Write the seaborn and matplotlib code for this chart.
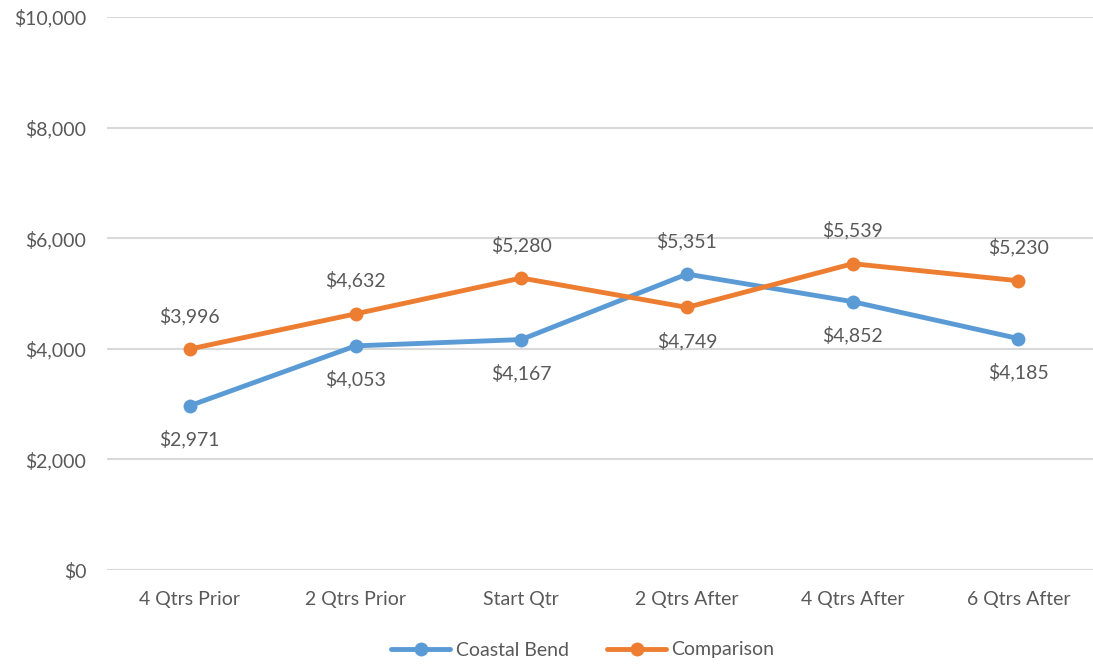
import matplotlib
matplotlib.use("Agg")
import matplotlib.pyplot as plt
import seaborn as sns
import pandas as pd
from matplotlib.ticker import FuncFormatter

# data
quarters = ["4 Qtrs Prior", "2 Qtrs Prior", "Start Qtr", "2 Qtrs After", "4 Qtrs After", "6 Qtrs After"]
coastal_bend = [2971, 4053, 4167, 5351, 4852, 4185]
comparison = [3996, 4632, 5280, 4749, 5539, 5230]

blue = "#5B9BD5"
orange = "#ED7D31"
grey = "#595959"

df = pd.DataFrame({
    "quarter": quarters * 2,
    "pos": list(range(len(quarters))) * 2,
    "amount": coastal_bend + comparison,
    "series": ["Coastal Bend"] * len(quarters) + ["Comparison"] * len(quarters),
})

sns.set_style("white")
plt.rcParams["font.family"] = ["Lato", "DejaVu Sans"]

fig = plt.figure(figsize=(10.93, 6.64), dpi=100)
ax = fig.add_axes([107 / 1093, 94 / 664, 986 / 1093, 553 / 664])

sns.lineplot(data=df, x="pos", y="amount", hue="series",
             palette={"Coastal Bend": blue, "Comparison": orange},
             marker="o", markersize=10, markeredgewidth=0, linewidth=3.5,
             ax=ax, legend=True)

# data labels: below for Coastal Bend, above for Comparison, except where they cross
for i, v in enumerate(coastal_bend):
    off = 24 if v > comparison[i] else -24
    ax.annotate(f"${v:,}", (i, v), xytext=(0, off), textcoords="offset points",
                ha="center", va="center", fontsize=14, color=grey)
for i, v in enumerate(comparison):
    off = 24 if v > coastal_bend[i] else -24
    ax.annotate(f"${v:,}", (i, v), xytext=(0, off), textcoords="offset points",
                ha="center", va="center", fontsize=14, color=grey)

ax.set_xlim(-0.5, 5.45)
ax.set_ylim(0, 10000)
ax.set_yticks(range(0, 10001, 2000))
ax.yaxis.set_major_formatter(FuncFormatter(lambda v, p: f"${v:,.0f}"))
ax.set_xticks(range(len(quarters)))
ax.set_xticklabels(quarters)
ax.tick_params(axis="both", labelsize=14, colors=grey, length=0)
ax.tick_params(axis="x", pad=15)
ax.tick_params(axis="y", pad=15)
ax.grid(axis="y", color="#D9D9D9", linewidth=1.5)
ax.set_axisbelow(True)
for s in ax.spines.values():
    s.set_visible(False)
ax.set_xlabel("")
ax.set_ylabel("")

handles, labels = ax.get_legend_handles_labels()
ax.legend(handles, labels, loc="center", bbox_to_anchor=(583 / 1093, 14 / 664),
          bbox_transform=fig.transFigure, ncol=2, frameon=False, fontsize=14,
          labelcolor=grey, handlelength=3, columnspacing=2, handletextpad=0.3)

fig.savefig("out.png", dpi=100)
